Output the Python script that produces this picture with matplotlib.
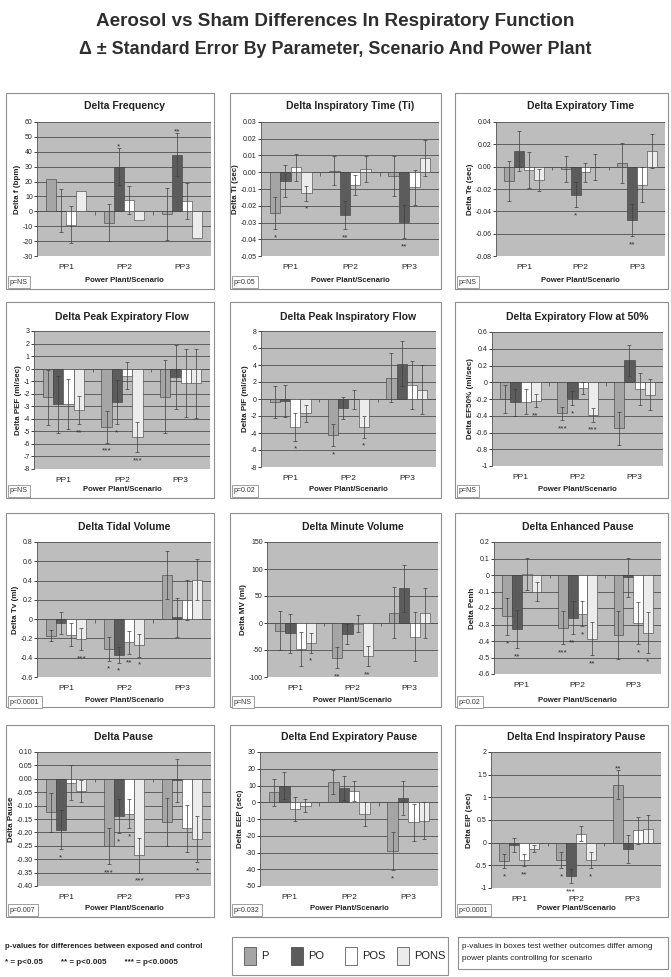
import numpy as np
import matplotlib
matplotlib.use('Agg')
import matplotlib.pyplot as plt
from matplotlib.patches import Rectangle
from matplotlib.ticker import FuncFormatter, MultipleLocator

plt.rcParams['font.family'] = ['Liberation Sans', 'DejaVu Sans']

nan = np.nan
GROUPS = ['PP1', 'PP2', 'PP3']
SERIES = ['P', 'PO', 'POS', 'PONS']

# rows follow SERIES, columns follow GROUPS
FREQ_MEAN = [[21.5, -7.5, -2], [0.5, 30, 38], [-9, 7.5, 7], [13.5, -5.5, -18]]
FREQ_SE = [[nan, 12.5, 17.5], [14.5, 12.5, 14.5], [12.5, 9.5, 12], [nan, nan, nan]]
FREQ_STARS = [['', '', ''], ['', '*', '**'], ['', '', ''], ['', '', '']]

TI_MEAN = [[-0.0245, 0.001, -0.002], [-0.005, -0.0255, -0.0295], [0.003, -0.0075, -0.009], [-0.0125, 0.002, 0.0085]]
TI_SE = [[0.0095, 0.0085, 0.012], [0.0095, 0.0083, 0.010], [0.008, 0.006, 0.0105], [0.0045, 0.008, 0.0105]]
TI_STARS = [['*', '', ''], ['', '**', '**'], ['', '', ''], ['*', '', '']]

TE_MEAN = [[-0.013, -0.002, 0.003], [0.014, -0.025, -0.048], [-0.003, -0.005, -0.016], [-0.012, -0.0005, 0.014]]
TE_SE = [[0.018, 0.012, 0.018], [0.018, 0.0115, 0.0145], [0.0165, 0.0085, 0.0155], [0.0095, 0.0117, 0.015]]
TE_STARS = [['', '', ''], ['', '*', '**'], ['', '', ''], ['', '', '']]

PEF_MEAN = [[-2.3, -4.65, -2.25], [-2.85, -2.65, -0.65], [-2.85, -0.55, -1.15], [-3.3, -5.45, -1.15]]
PEF_SE = [[2.2, 1.25, 2.9], [2.25, 1.75, 2.55], [2.0, 1.05, 2.7], [1.15, 1.2, 2.75]]
PEF_STARS = [['', '***', ''], ['', '*', ''], ['', '', ''], ['**', '***', '']]

PIF_MEAN = [[-0.35, -4.25, 2.5], [-0.25, -1.1, 4.15], [-3.25, -0.05, 1.65], [-1.7, -3.3, 1.1]]
PIF_SE = [[1.9, 1.3, 2.9], [1.9, 1.3, 2.65], [1.65, 1.15, 2.8], [1.0, 1.25, 2.85]]
PIF_STARS = [['', '*', ''], ['', '', ''], ['*', '', ''], ['', '*', '']]

EF50_MEAN = [[-0.2, -0.37, -0.55], [-0.24, -0.19, 0.26], [-0.23, -0.07, -0.08], [-0.22, -0.39, -0.15]]
EF50_SE = [[0.17, 0.08, 0.2], [0.165, 0.085, 0.18], [0.15, 0.07, 0.19], [0.08, 0.08, 0.185]]
EF50_STARS = [['', '***', ''], ['', '*', ''], ['', '', ''], ['**', '***', '']]

TV_MEAN = [[-0.17, -0.31, 0.46], [-0.04, -0.37, 0.02], [-0.16, -0.24, 0.2], [-0.21, -0.27, 0.41]]
TV_SE = [[0.06, 0.12, 0.25], [0.11, 0.08, 0.2], [0.12, 0.12, 0.21], [0.115, 0.12, 0.215]]
TV_STARS = [['', '*', ''], ['', '*', ''], ['', '**', ''], ['***', '*', '']]

MV_MEAN = [[-14, -64, 19], [-19, -20, 64], [-48, -1, -25], [-37, -61, 19]]
MV_SE = [[36, 20, 47], [36.5, 18, 43], [31.5, 16, 45], [18, 19, 46]]
MV_STARS = [['', '**', ''], ['', '', ''], ['', '', ''], ['*', '**', '']]

PENH_MEAN = [[-0.25, -0.32, -0.365], [-0.33, -0.26, -0.015], [0.005, -0.235, -0.29], [-0.1, -0.385, -0.35]]
PENH_SE = [[0.113, 0.1, 0.145], [0.115, 0.1, 0.12], [0.097, 0.075, 0.127], [0.058, 0.1, 0.125]]
PENH_STARS = [['*', '***', ''], ['**', '**', ''], ['', '*', '*'], ['', '**', '*']]

PAUSE_MEAN = [[-0.125, -0.25, -0.16], [-0.19, -0.14, -0.005], [-0.015, -0.13, -0.185], [-0.045, -0.285, -0.225]]
PAUSE_SE = [[0.073, 0.068, 0.09], [0.073, 0.064, 0.08], [0.065, 0.055, 0.087], [0.04, 0.065, 0.085]]
PAUSE_STARS = [['', '***', ''], ['*', '*', ''], ['', '*', ''], ['', '***', '*']]

EEP_MEAN = [[6, 12, -29], [10, 8.5, 2.5], [-4, 6.5, -12], [-2, -7, -11]]
EEP_SE = [[8, 7, 11.3], [8, 7, 10.3], [7, 6, 11], [3.7, 7, 11]]
EEP_STARS = [['', '', '*'], ['', '', ''], ['', '', ''], ['', '', '']]

EIP_MEAN = [[-0.4, -0.38, 1.28], [-0.05, -0.73, -0.14], [-0.38, 0.2, 0.27], [-0.13, -0.38, 0.31]]
EIP_SE = [[0.16, 0.175, 0.315], [0.155, 0.155, 0.3], [0.14, 0.17, 0.3], [0.07, 0.175, 0.31]]
EIP_STARS = [['*', '*', '**'], ['', '***', ''], ['**', '', ''], ['', '*', '']]

PANELS = [
    ('Delta Frequency', 'Delta f (bpm)', FREQ_MEAN, FREQ_SE, FREQ_STARS, (-30, 60), 10, 'p=NS'),
    ('Delta Inspiratory Time (Ti)', 'Delta Ti (sec)', TI_MEAN, TI_SE, TI_STARS, (-0.05, 0.03), 0.01, 'p=0.05'),
    ('Delta Expiratory Time', 'Delta Te (sec)', TE_MEAN, TE_SE, TE_STARS, (-0.08, 0.04), 0.02, 'p=NS'),
    ('Delta Peak Expiratory Flow', 'Delta PEF (ml/sec)', PEF_MEAN, PEF_SE, PEF_STARS, (-8, 3), 1, 'p=NS'),
    ('Delta Peak Inspiratory Flow', 'Delta PIF (ml/sec)', PIF_MEAN, PIF_SE, PIF_STARS, (-8, 8), 2, 'p=0.02'),
    ('Delta Expiratory Flow at 50%', 'Delta EF50% (ml/sec)', EF50_MEAN, EF50_SE, EF50_STARS, (-1, 0.6), 0.2, 'p=NS'),
    ('Delta Tidal Volume', 'Delta Tv (ml)', TV_MEAN, TV_SE, TV_STARS, (-0.6, 0.8), 0.2, 'p<0.0001'),
    ('Delta Minute Volume', 'Delta MV (ml)', MV_MEAN, MV_SE, MV_STARS, (-100, 150), 50, 'p=NS'),
    ('Delta Enhanced Pause', 'Delta Penh', PENH_MEAN, PENH_SE, PENH_STARS, (-0.6, 0.2), 0.1, 'p=0.02'),
    ('Delta Pause', 'Delta Pause', PAUSE_MEAN, PAUSE_SE, PAUSE_STARS, (-0.4, 0.1), 0.05, 'p=0.007'),
    ('Delta End Expiratory Pause', 'Delta EEP (sec)', EEP_MEAN, EEP_SE, EEP_STARS, (-50, 30), 10, 'p=0.032'),
    ('Delta End Inspiratory Pause', 'Delta EIP (sec)', EIP_MEAN, EIP_SE, EIP_STARS, (-1, 2), 0.5, 'p<0.0001'),
]
TWO_DEC = {'Delta Inspiratory Time (Ti)', 'Delta Expiratory Time', 'Delta Pause'}

COLORS = ['#a5a5a5', '#5c5c5c', '#ffffff', '#ececec']
EDGE = '#3c3c3c'
BG = '#bdbdbd'

W, H = 671, 977
fig = plt.figure(figsize=(W / 100, H / 100), dpi=100)

# layout in pixels
FRAME_X = [(6, 214), (230, 441), (455, 668)]
FRAME_Y = [(93, 289), (302, 498), (513, 707), (725, 917)]
PLOT = [(37, 211, 122, 256), (261, 439, 122, 256), (496, 665, 122, 256),
        (34, 210, 331, 469), (261, 436, 331, 467), (492, 663, 332, 466),
        (37, 211, 542, 677), (267, 438, 542, 677), (494, 661, 542, 674),
        (37, 211, 752, 886), (260, 438, 752, 886), (491, 661, 752, 888)]
TITLE_Y = [106, 317, 527, 737]
XLAB_Y = [281, 490, 701, 909]


def fx(x):
    return x / W


def fy(y):
    return 1 - y / H


fig.text(0.5, fy(22), 'Aerosol vs Sham Differences In Respiratory Function',
         ha='center', va='center', fontsize=13.6, fontweight='bold', color='#2e2e2e')
fig.text(0.5, fy(50), '\u0394 \u00b1 Standard Error By Parameter, Scenario And Power Plant',
         ha='center', va='center', fontsize=12.9, fontweight='bold', color='#2e2e2e')

width = 0.176
x = np.arange(len(GROUPS))

for i, (title, ylab, mean, se, stars, ylim, step, pval) in enumerate(PANELS):
    row, col = divmod(i, 3)
    fx0, fx1 = FRAME_X[col]
    fy0, fy1 = FRAME_Y[row]
    fig.add_artist(Rectangle((fx(fx0), fy(fy1)), fx(fx1) - fx(fx0), fy(fy0) - fy(fy1),
                             transform=fig.transFigure, fill=False, ec='#8f8f8f', lw=0.8))

    x0, x1, y0, y1 = PLOT[i]
    ax = fig.add_axes([fx(x0), fy(y1), fx(x1) - fx(x0), fy(y0) - fy(y1)])
    ax.set_facecolor(BG)
    ax.set_axisbelow(True)
    ax.yaxis.grid(True, color='#505050', lw=0.6)
    rng = ylim[1] - ylim[0]

    for s in range(len(SERIES)):
        xs = x + (s - 1.5) * width
        ax.bar(xs, mean[s], width, color=COLORS[s], edgecolor=EDGE, lw=0.4, zorder=2)
        ax.errorbar(xs, mean[s], yerr=se[s], fmt='none', ecolor='#404040',
                    elinewidth=0.5, capsize=1.2, capthick=0.5, zorder=3)
        for g in range(len(GROUPS)):
            t = stars[s][g]
            if not t:
                continue
            e = se[s][g] if not np.isnan(se[s][g]) else 0
            m = mean[s][g]
            if m < 0:
                ax.annotate(t, (xs[g], m - e), xytext=(0, -7.3), textcoords='offset points',
                            ha='center', va='baseline', fontsize=6, color='#333333', zorder=4)
            else:
                ax.annotate(t, (xs[g], m + e), xytext=(0, -0.3), textcoords='offset points',
                            ha='center', va='baseline', fontsize=6, color='#333333', zorder=4)

    ax.axhline(0, color='#555555', lw=0.6, zorder=1.5)
    ax.vlines([0.5, 1.5], 0, -0.025 * rng, color='#555555', lw=0.6, zorder=1.5)
    ax.set_xlim(-0.5, 2.5)
    ax.set_ylim(*ylim)
    ax.yaxis.set_major_locator(MultipleLocator(step))
    if title in TWO_DEC:
        ax.yaxis.set_major_formatter(FuncFormatter(lambda v, p: f'{v:.2f}'.replace('-0.00', '0.00')))
    else:
        ax.yaxis.set_major_formatter(FuncFormatter(lambda v, p: f'{round(v, 6):g}'))
    ax.set_xticks(x)
    ax.set_xticklabels(GROUPS)
    ax.tick_params(axis='x', length=0, pad=6, labelsize=6, colors='#222222')
    ax.tick_params(axis='y', length=2, width=0.6, pad=1.0, labelsize=5.0, colors='#222222', direction='out')
    for sp in ['top', 'right', 'bottom']:
        ax.spines[sp].set_visible(False)
    ax.spines['left'].set_color('#555555')
    ax.spines['left'].set_linewidth(0.6)
    ax.set_ylabel(ylab, fontsize=5.8, fontweight='bold', labelpad=1.0, color='#222222')

    cx = fx((x0 + x1) / 2)
    fig.text(cx, fy(TITLE_Y[row]), title, ha='center', va='center', fontsize=7.5,
             fontweight='bold', color='#222222')
    fig.text(cx, fy(XLAB_Y[row]), 'Power Plant/Scenario', ha='center', va='center',
             fontsize=5.6, fontweight='bold', color='#222222')
    fig.text(fx(fx0 + 4), fy(XLAB_Y[row] + 1), pval, ha='left', va='center', fontsize=5,
             color='#333333',
             bbox=dict(boxstyle='square,pad=0.35', fc='white', ec='#8f8f8f', lw=0.6))

# bottom notes
fig.text(fx(5), fy(946), 'p-values for differences between exposed and control', ha='left',
         va='center', fontsize=5.6, fontweight='bold', color='#222222')
fig.text(fx(5), fy(962), '* = p<0.05        ** = p<0.005        *** = p<0.0005', ha='left',
         va='center', fontsize=5.8, fontweight='bold', color='#222222')

# legend box
fig.add_artist(Rectangle((fx(232), fy(975)), fx(448) - fx(232), fy(937) - fy(975),
                         transform=fig.transFigure, fill=False, ec='#8f8f8f', lw=0.8))
leg_x = [244, 291, 345, 397]
for s, name in enumerate(SERIES):
    fig.add_artist(Rectangle((fx(leg_x[s]), fy(965)), fx(12), fy(947) - fy(965),
                             transform=fig.transFigure, fc=COLORS[s], ec=EDGE, lw=0.5))
    fig.text(fx(leg_x[s] + 17), fy(956), name, ha='left', va='center', fontsize=8,
             color='#222222')

# right note box
fig.add_artist(Rectangle((fx(458), fy(969)), fx(668) - fx(458), fy(937) - fy(969),
                         transform=fig.transFigure, fill=False, ec='#8f8f8f', lw=0.8))
fig.text(fx(462), fy(946), 'p-values in boxes test wether outcomes differ among', ha='left',
         va='center', fontsize=5.9, color='#222222')
fig.text(fx(462), fy(959), 'power plants controlling for scenario', ha='left',
         va='center', fontsize=5.9, color='#222222')

plt.savefig('out.png', dpi=100)
plt.close()
